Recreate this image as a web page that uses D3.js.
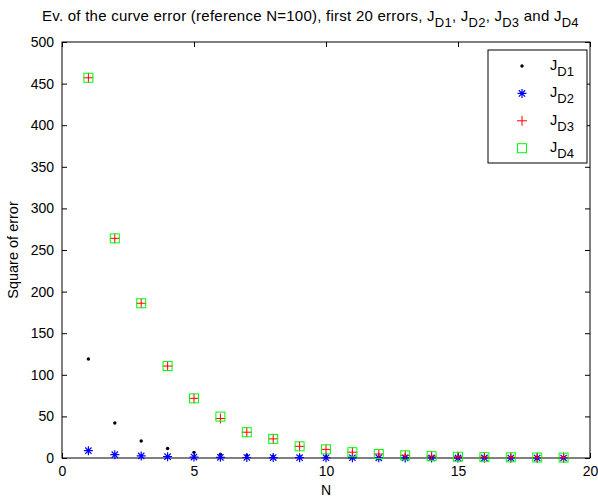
<!DOCTYPE html>
<html>
<head>
<meta charset="utf-8">
<script src="https://cdn.jsdelivr.net/npm/d3@7"></script>
<style>
  body { margin: 0; background: #fff; }
  svg { font-family: "Liberation Sans", Arial, sans-serif; }
  .tick text { font-size: 14px; fill: #000; font-family: "Liberation Sans", Arial, sans-serif; }
</style>
</head>
<body>
<script>
var nValues = [1, 2, 3, 4, 5, 6, 7, 8, 9, 10, 11, 12, 13, 14, 15, 16, 17, 18, 19];
var jD1 = [119, 42, 20.5, 11.5, 6.8, 4.4, 3, 2.2, 1.6, 1.2, 0.9, 0.7, 0.5, 0.4, 0.3, 0.25, 0.2, 0.15, 0.1];
var jD2 = [8.8, 4, 2.5, 1.6, 1.1, 0.8, 0.6, 0.5, 0.4, 0.3, 0.25, 0.2, 0.15, 0.12, 0.1, 0.08, 0.06, 0.05, 0.04];
var jD3 = [457, 264, 186, 110.5, 71.7, 47.5, 31, 23, 14, 10.4, 7, 4.8, 3.2, 2.2, 1.5, 1.0, 0.8, 0.6, 0.5];
var jD4 = [457, 264, 186, 110.5, 71.7, 49.8, 31, 23, 14, 10.4, 7, 4.8, 3.2, 2.2, 1.5, 1.0, 0.8, 0.6, 0.5];
var seriesNames = ['D1', 'D2', 'D3', 'D4'];
var xTicks = [0, 5, 10, 15, 20];
var yTicks = [0, 50, 100, 150, 200, 250, 300, 350, 400, 450, 500];

var width = 598;
var height = 500;
var plotLeft = 62, plotRight = 590, plotTop = 42, plotBottom = 458;

var svg = d3.select('body').append('svg')
  .attr('width', width)
  .attr('height', height);

var x = d3.scaleLinear().domain([0, 20]).range([plotLeft, plotRight]);
var y = d3.scaleLinear().domain([0, 500]).range([plotBottom, plotTop]);

function noDomain(g) { g.select('.domain').remove(); }

// axes with inward ticks, MATLAB style
svg.append('g')
  .attr('transform', 'translate(0,' + plotBottom + ')')
  .call(d3.axisBottom(x).tickValues(xTicks).tickSizeInner(-5).tickSizeOuter(0).tickPadding(8))
  .call(noDomain);

svg.append('g')
  .attr('transform', 'translate(' + plotLeft + ',0)')
  .call(d3.axisLeft(y).tickValues(yTicks).tickSizeInner(-5).tickSizeOuter(0).tickPadding(8))
  .call(noDomain);

svg.append('g')
  .attr('transform', 'translate(0,' + plotTop + ')')
  .call(d3.axisTop(x).tickValues(xTicks).tickSizeInner(-5).tickSizeOuter(0).tickFormat(''))
  .call(noDomain);

svg.append('g')
  .attr('transform', 'translate(' + plotRight + ',0)')
  .call(d3.axisRight(y).tickValues(yTicks).tickSizeInner(-5).tickSizeOuter(0).tickFormat(''))
  .call(noDomain);

svg.selectAll('.tick line').attr('stroke', '#000');

svg.append('rect')
  .attr('x', plotLeft).attr('y', plotTop)
  .attr('width', plotRight - plotLeft).attr('height', plotBottom - plotTop)
  .attr('fill', 'none').attr('stroke', '#000').attr('stroke-width', 1);

// marker painters
function drawDot(g) {
  g.append('circle').attr('r', 1.7).attr('fill', '#000');
}
function drawStar(g) {
  var s = 4.5;
  g.append('path')
    .attr('d', 'M' + (-s) + ',0H' + s + 'M0,' + (-s) + 'V' + s +
      'M' + (-s * 0.7) + ',' + (-s * 0.7) + 'L' + (s * 0.7) + ',' + (s * 0.7) +
      'M' + (-s * 0.7) + ',' + (s * 0.7) + 'L' + (s * 0.7) + ',' + (-s * 0.7))
    .attr('stroke', 'rgb(0,0,255)').attr('stroke-width', 1.2).attr('fill', 'none');
}
function drawPlus(g) {
  var s = 5;
  g.append('path')
    .attr('d', 'M' + (-s) + ',0H' + s + 'M0,' + (-s) + 'V' + s)
    .attr('stroke', 'rgb(255,0,0)').attr('stroke-width', 1).attr('fill', 'none');
}
function drawSquare(g) {
  g.append('rect').attr('x', -4.5).attr('y', -4.5).attr('width', 9).attr('height', 9)
    .attr('stroke', 'rgb(0,255,0)').attr('stroke-width', 1).attr('fill', 'none');
}

var painters = [drawDot, drawStar, drawPlus, drawSquare];
var seriesData = [jD1, jD2, jD3, jD4];

seriesData.forEach(function(vals, i) {
  var grp = svg.append('g').attr('class', 'series-' + seriesNames[i]);
  grp.selectAll('g').data(nValues).enter().append('g')
    .attr('transform', function(d, k) { return 'translate(' + x(d) + ',' + y(vals[k]) + ')'; })
    .each(function() { painters[i](d3.select(this)); });
});

// legend
var legend = svg.append('g');
legend.append('rect')
  .attr('x', 488).attr('y', 50).attr('width', 99).attr('height', 113)
  .attr('fill', '#fff').attr('stroke', '#000').attr('stroke-width', 1);

seriesNames.forEach(function(name, i) {
  var ly = 66 + i * 27.4;
  var mg = legend.append('g').attr('transform', 'translate(522,' + ly + ')');
  painters[i](mg);
  var t = legend.append('text')
    .attr('x', 550).attr('y', ly + 4)
    .attr('font-size', 14.5);
  t.append('tspan').text('J');
  t.append('tspan').attr('dy', 6).attr('font-size', 13).text(name);
});

// title (runs off the right edge like the original)
var title = svg.append('text')
  .attr('x', 42).attr('y', 21)
  .attr('font-size', 15)
  .attr('letter-spacing', 0.25);
title.append('tspan').text('Ev. of the curve error (reference N=100), first 20 errors, J');
function subPart(txt, after) {
  title.append('tspan').attr('dy', 6).attr('font-size', 13).text(txt);
  title.append('tspan').attr('dy', -6).text(after);
}
subPart('D1', ', J');
subPart('D2', ', J');
subPart('D3', ' and J');
subPart('D4', '');

// axis labels
svg.append('text')
  .attr('x', (plotLeft + plotRight) / 2).attr('y', 495)
  .attr('text-anchor', 'middle').attr('font-size', 14)
  .text('N');

svg.append('text')
  .attr('transform', 'translate(18,' + (plotTop + plotBottom) / 2 + ') rotate(-90)')
  .attr('text-anchor', 'middle').attr('font-size', 14.5)
  .text('Square of error');
</script>
</body>
</html>
